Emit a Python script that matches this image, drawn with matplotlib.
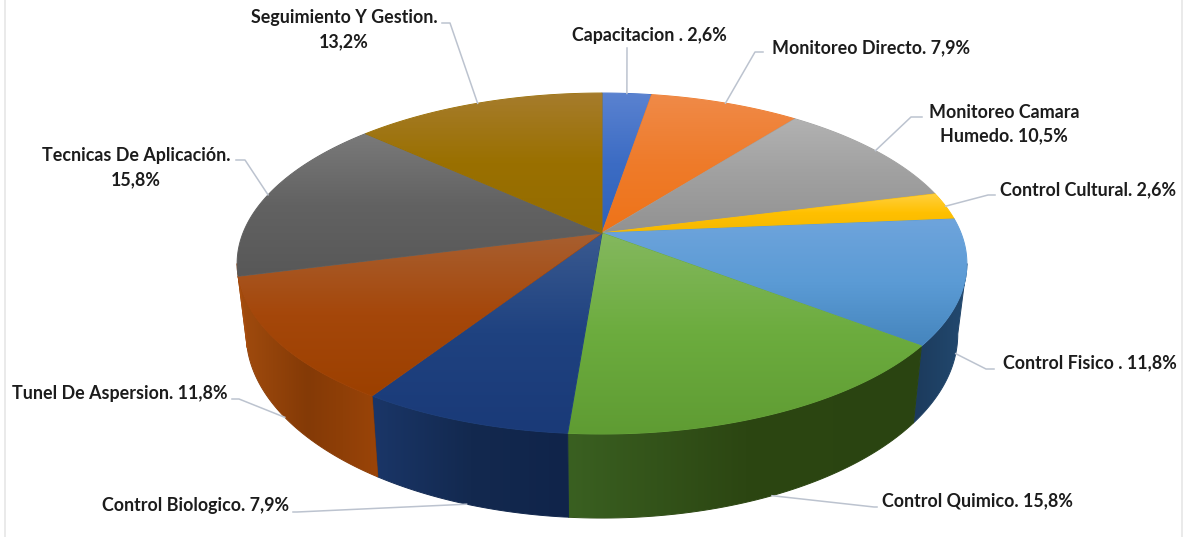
import numpy as np
import matplotlib
matplotlib.use("Agg")
import matplotlib.pyplot as plt
from matplotlib.colors import to_rgb
from matplotlib.patches import Polygon

plt.rcParams['font.family'] = ['Lato', 'DejaVu Sans']

# values as printed on the labels, clockwise from 12 o'clock
names = ["Capacitacion", "Monitoreo Directo", "Monitoreo Camara Humedo", "Control Cultural",
         "Control Fisico", "Control Quimico", "Control Biologico", "Tunel De Aspersion",
         "Tecnicas De Aplicacion", "Seguimiento Y Gestion"]
values = [2.6, 7.9, 10.5, 2.6, 11.8, 15.8, 7.9, 11.8, 15.8, 13.2]
label_texts = ["Capacitacion . 2,6%", "Monitoreo Directo. 7,9%", "Monitoreo Camara\nHumedo. 10,5%",
               "Control Cultural. 2,6%", "Control Fisico . 11,8%", "Control Quimico. 15,8%",
               "Control Biologico. 7,9%", "Tunel De Aspersion. 11,8%",
               "Tecnicas De Aplicación.\n15,8%", "Seguimiento Y Gestion.\n13,2%"]

# top face gradient: upper, middle, lower
top_colors = [("#5a82d0", "#3c6cc4", "#2f62b8"), ("#f08a48", "#ee7b2a", "#ef7318"),
              ("#b2b2b2", "#a0a0a0", "#929292"), ("#ffd040", "#ffc000", "#f5b800"),
              ("#6ea4dc", "#5b9bd5", "#4585bd"), ("#84b85e", "#6cac3e", "#5f9c33"),
              ("#3a5a90", "#1f4280", "#1a3a78"), ("#a85f30", "#a5470a", "#9c4000"),
              ("#7a7a7a", "#626262", "#585858"), ("#a67c2c", "#9a7000", "#946c00")]
# rim colours across the slice, from its right end to its left end
side_colors = [("#24467f", "#24467f", "#24467f"), ("#8f4a1c", "#8f4a1c", "#8f4a1c"),
               ("#5f5f5f", "#5f5f5f", "#5f5f5f"), ("#8f6c00", "#8f6c00", "#8f6c00"),
               ("#234a70", "#1f4266", "#1c3a5c"), ("#2a4411", "#2c4612", "#3a6021"),
               ("#10244a", "#13294f", "#1a3668"), ("#9a4408", "#843a06", "#a24c0e"),
               ("#a84e0e", "#a84e0e", "#a84e0e"), ("#6b5000", "#6b5000", "#6b5000")]

# label centres, and the leader's elbow and end next to the label
label_pos = [(649, 36), (871, 48), (1004, 124), (1088, 190), (1090, 363),
             (977, 501), (196, 506), (120, 394), (136, 168), (344, 30)]
leader_mid = [(627, 48), (755, 52), (911, 117), (988, 195), (986, 369),
              (874, 507), (297, 512), (239, 399), (245, 160), (450, 23)]
leader_end = [(627, 48), (763, 52), (922, 117), (995, 195), (994, 369),
              (877, 507), (293, 512), (232, 399), (236, 160), (442, 23)]

# perspective of the disc, in pixels
cx, cy = 602, 233
rx, ry, persp = 359, 165, 0.179
bottom_cx_scale, bottom_cy, bottom_y_scale = 0.975, 301, 1.08


def project(theta, bottom=False):
    u, v = np.sin(theta), np.cos(theta)
    d = 1 + persp * v
    x = cx + rx * u / d
    y = cy - ry * v / d
    if bottom:
        x = cx + bottom_cx_scale * (x - cx)
        y = bottom_cy + bottom_y_scale * (y - cy)
    return x, y


def mix(stops, t):
    rgb = np.array([to_rgb(c) for c in stops])
    pos = np.linspace(0, 1, len(stops))
    return np.array([np.interp(t, pos, rgb[:, i]) for i in range(3)]).T


def gradient_patch(xs, ys, stops, z, horizontal=False):
    poly = Polygon(np.c_[xs, ys], closed=True, facecolor="none",
                   edgecolor=stops[1], lw=0.7, zorder=z)
    ax.add_patch(poly)
    grad = mix(stops, np.linspace(0, 1, 128))
    grad = grad[None, ::-1, :] if horizontal else grad[:, None, :]
    im = ax.imshow(grad, extent=(xs.min(), xs.max(), ys.max(), ys.min()), aspect="auto",
                   zorder=z, interpolation="bilinear")
    im.set_clip_path(poly)


fig = plt.figure(figsize=(11.84, 5.37), dpi=100)
ax = fig.add_axes([0, 0, 1, 1])

edges = np.cumsum([0] + values) / sum(values) * 2 * np.pi

# the rim only shows between the two points where the disc is widest
rim_from = np.arccos(-persp)
rim_to = 2 * np.pi - rim_from

for i in range(len(values)):
    start, end = max(edges[i], rim_from), min(edges[i + 1], rim_to)
    if end <= start:
        continue
    th = np.linspace(start, end, 60)
    xt, yt = project(th)
    xb, yb = project(th, bottom=True)
    gradient_patch(np.r_[xt, xb[::-1]], np.r_[yt, yb[::-1]], side_colors[i], 2, horizontal=True)

# top face, every slice has its own vertical gradient
for i in range(len(values)):
    x, y = project(np.linspace(edges[i], edges[i + 1], 80))
    gradient_patch(np.r_[cx, x], np.r_[cy, y], top_colors[i], 3)

# leaders and labels
for i in range(len(values)):
    mid = (edges[i] + edges[i + 1]) / 2
    x0, y0 = project(mid, bottom=np.cos(mid) < -0.2)
    ax.plot([x0, leader_mid[i][0], leader_end[i][0]], [y0, leader_mid[i][1], leader_end[i][1]],
            color="#bcc3cf", lw=1.1, zorder=4, solid_joinstyle="round")
    ax.text(label_pos[i][0], label_pos[i][1], label_texts[i], ha="center", va="center",
            multialignment="center", fontsize=12.9, fontweight="bold", color="#1c1c1c",
            linespacing=1.5, zorder=5)

# faint chart frame
ax.plot([5, 5], [0, 537], color="#e6e6e6", lw=1.2, zorder=1)
ax.plot([1182, 1182], [0, 537], color="#e6e6e6", lw=1.2, zorder=1)

ax.set_xlim(0, 1184)
ax.set_ylim(537, 0)
ax.axis("off")
fig.savefig("out.png", dpi=100, facecolor="white")
